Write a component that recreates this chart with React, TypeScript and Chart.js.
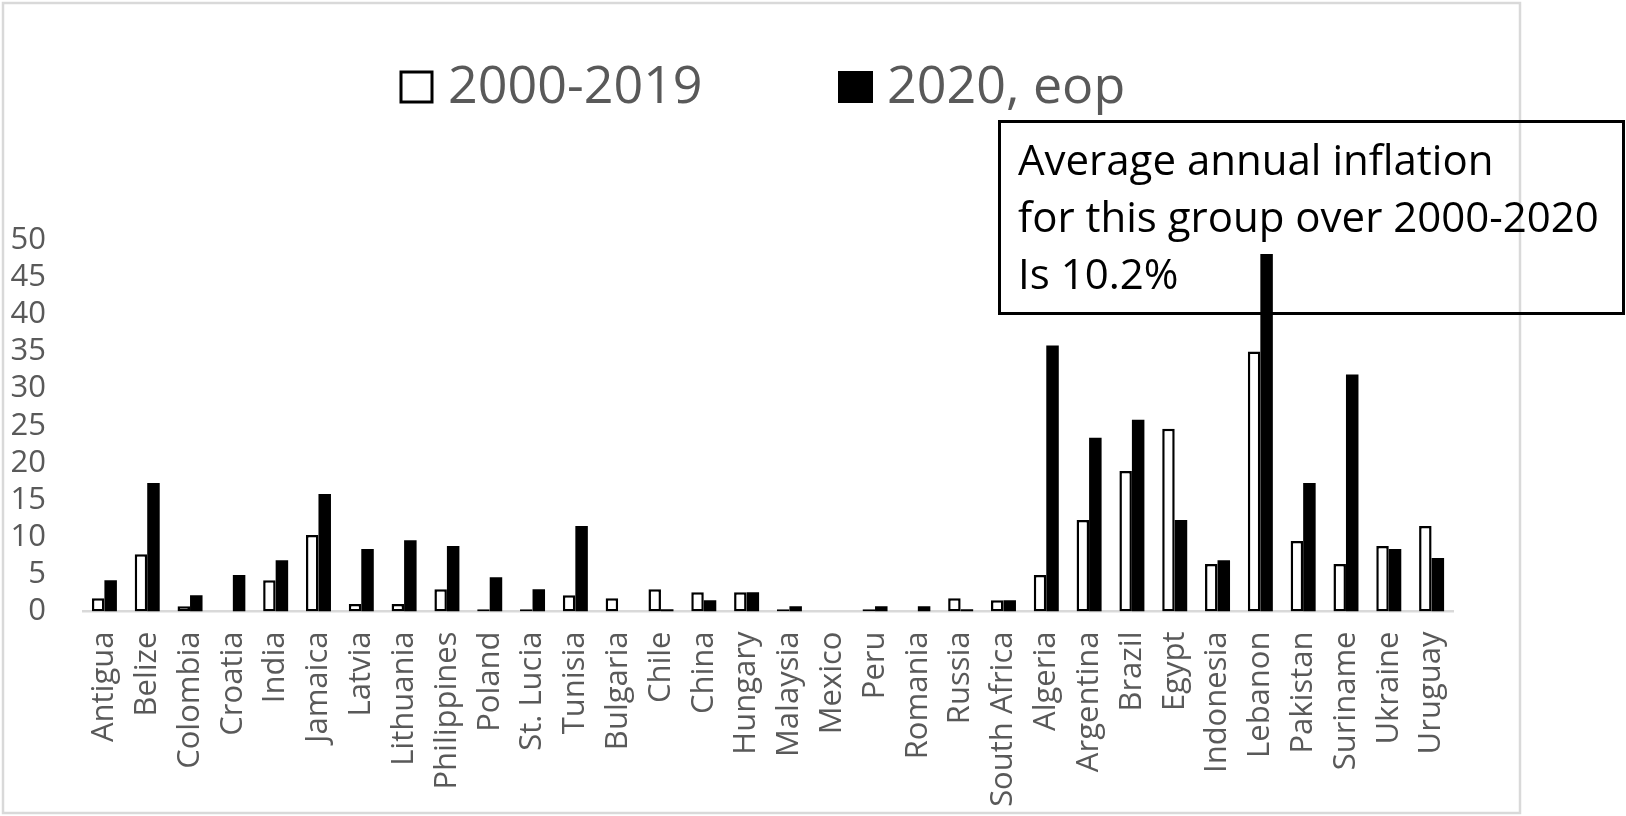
import React, { useEffect, useRef } from 'react';
import { Chart, registerables } from 'chart.js';

Chart.register(...registerables);

// Countries grouped by inflation experience
const countries = [
  'Antigua', 'Belize', 'Colombia', 'Croatia', 'India', 'Jamaica', 'Latvia', 'Lithuania',
  'Philippines', 'Poland', 'St. Lucia', 'Tunisia', 'Bulgaria', 'Chile', 'China', 'Hungary',
  'Malaysia', 'Mexico', 'Peru', 'Romania', 'Russia', 'South Africa', 'Algeria', 'Argentina',
  'Brazil', 'Egypt', 'Indonesia', 'Lebanon', 'Pakistan', 'Suriname', 'Ukraine', 'Uruguay',
];

// Average annual inflation 2000-2019, %
const avg2000to2019 = [
  1.8, 7.7, 0.7, 0, 4.2, 10.3, 1.0, 1.0,
  3.0, 0.3, 0.3, 2.2, 1.8, 3.0, 2.6, 2.6,
  0.3, 0, 0.3, 0, 1.8, 1.5, 4.9, 12.3,
  18.9, 24.6, 6.4, 35.0, 9.5, 6.4, 8.8, 11.5,
];

// Inflation in 2020, end of period, %
const eop2020 = [
  4.2, 17.3, 2.2, 4.9, 6.9, 15.8, 8.4, 9.6,
  8.8, 4.6, 3.0, 11.5, 0, 0.3, 1.5, 2.6,
  0.7, 0, 0.7, 0.7, 0.3, 1.5, 35.8, 23.4,
  25.8, 12.3, 6.9, 48.1, 17.3, 31.9, 8.4, 7.2,
];

const seriesNames = ['2000-2019', '2020, eop'];
const yMin = 0;
const yMax = 50;
const yStep = 5;
const noteLines = ['Average annual inflation', 'for this group over 2000-2020', 'Is 10.2%'];

const FONT = "'Open Sans', 'Noto Sans', sans-serif";
const GRAY_TEXT = '#595959';
const FRAME = '#d9d9d9';

// Frame around the chart, drawn underneath everything else
const framePlugin = {
  id: 'frame',
  beforeDraw(chart: any) {
    const ctx = chart.ctx as CanvasRenderingContext2D;
    ctx.save();
    ctx.strokeStyle = FRAME;
    ctx.lineWidth = 2.5;
    ctx.strokeRect(3, 3, 1517, 810);
    ctx.restore();
  },
};

// Legend with tall swatches and the note box in the upper right
const decorPlugin = {
  id: 'decor',
  beforeDatasetsDraw(chart: any) {
    const ctx = chart.ctx as CanvasRenderingContext2D;
    ctx.save();

    // legend
    ctx.font = `52px ${FONT}`;
    ctx.textBaseline = 'alphabetic';
    ctx.textAlign = 'left';
    ctx.fillStyle = '#ffffff';
    ctx.fillRect(401, 72, 31, 30);
    ctx.strokeStyle = '#000000';
    ctx.lineWidth = 3;
    ctx.strokeRect(401, 72, 31, 30);
    ctx.fillStyle = GRAY_TEXT;
    ctx.fillText(seriesNames[0], 448, 103);

    ctx.fillStyle = '#000000';
    ctx.fillRect(838, 71, 35, 32);
    ctx.fillStyle = GRAY_TEXT;
    ctx.fillText(seriesNames[1], 887, 103);

    // note box
    ctx.strokeStyle = '#000000';
    ctx.lineWidth = 3;
    ctx.strokeRect(999.5, 121.5, 624, 192);
    ctx.fillStyle = '#000000';
    ctx.font = `42px ${FONT}`;
    noteLines.forEach((line, i) => {
      ctx.fillText(line, 1018, 175 + i * 57);
    });

    ctx.restore();
  },
};

export default function App() {
  const canvasRef = useRef<HTMLCanvasElement | null>(null);

  useEffect(() => {
    const canvas = canvasRef.current;
    if (!canvas) return;
    const chart = new Chart(canvas, {
      type: 'bar',
      data: {
        labels: countries,
        datasets: [
          {
            label: seriesNames[0],
            data: avg2000to2019,
            backgroundColor: '#ffffff',
            borderColor: '#000000',
            borderWidth: 2.5,
            borderSkipped: false,
            categoryPercentage: 0.584,
            barPercentage: 1,
          },
          {
            label: seriesNames[1],
            data: eop2020,
            backgroundColor: '#000000',
            borderColor: '#000000',
            borderWidth: 0,
            categoryPercentage: 0.584,
            barPercentage: 1,
          },
        ],
      },
      options: {
        responsive: false,
        animation: false,
        devicePixelRatio: 1,
        layout: { padding: { left: 0, right: 173, top: 240, bottom: 0 } },
        plugins: {
          legend: { display: false },
          tooltip: { enabled: false },
        },
        scales: {
          x: {
            grid: { display: false, drawTicks: false },
            border: { display: true, color: FRAME, width: 2.5 },
            ticks: {
              autoSkip: false,
              minRotation: 90,
              maxRotation: 90,
              padding: 20,
              color: GRAY_TEXT,
              font: { family: FONT, size: 31 },
            },
            afterFit(scale: any) {
              scale.height = 204.5;
            },
          },
          y: {
            min: yMin,
            max: yMax,
            grid: { display: false, drawTicks: false },
            border: { display: false },
            ticks: {
              stepSize: yStep,
              autoSkip: false,
              padding: 37,
              color: GRAY_TEXT,
              font: { family: FONT, size: 31, lineHeight: 1 },
            },
            afterFit(scale: any) {
              scale.width = 83;
            },
          },
        },
      },
      plugins: [framePlugin, decorPlugin],
    });
    return () => chart.destroy();
  }, []);

  return (
    <div style={{ position: 'fixed', left: 0, top: 0, width: 1626, height: 816, background: '#ffffff' }}>
      <canvas ref={canvasRef} width={1626} height={816} />
    </div>
  );
}
